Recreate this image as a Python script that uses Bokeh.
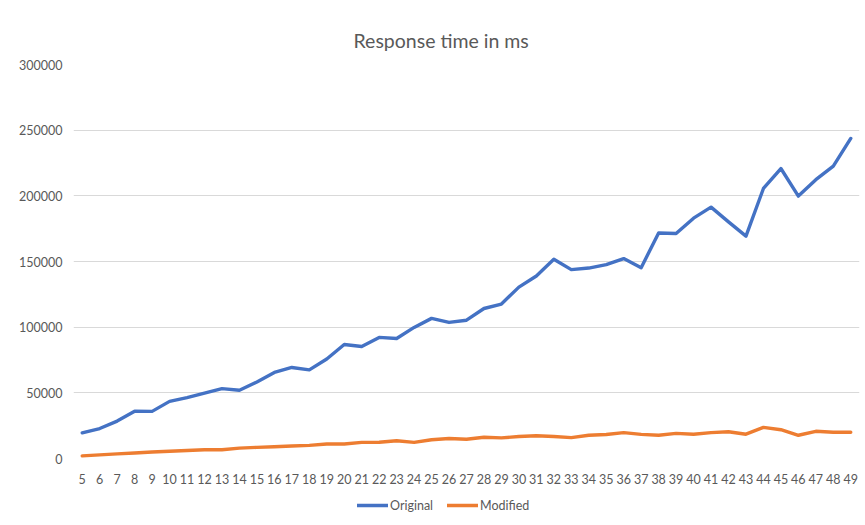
from bokeh.plotting import figure
from bokeh.layouts import column
from bokeh.models import ColumnDataSource, FactorRange, Range1d, FixedTicker, NumeralTickFormatter, Legend, LegendItem
from bokeh.embed import file_html
from bokeh.resources import INLINE

# ---- data ----
sizes = [str(n) for n in range(5, 50)]
original = [19500, 22800, 28500, 36000, 35900, 43500, 46400, 49800, 53200, 52000,
            58300, 65500, 69300, 67500, 75800, 86800, 85300, 92200, 91400, 99800,
            106700, 103600, 105300, 114200, 117600, 130500, 139000, 151700, 143800, 145000,
            147600, 152200, 145300, 171700, 171300, 183000, 191400, 180200, 169300, 205600,
            220800, 199800, 212300, 222600, 243700]
modified = [2000, 2800, 3500, 4200, 4900, 5500, 6100, 6700, 6700, 7900,
            8500, 9000, 9500, 10000, 11000, 11000, 12300, 12400, 13500, 12300,
            14300, 15200, 14700, 16200, 15700, 16800, 17300, 16800, 15900, 17700,
            18300, 19700, 18400, 17700, 19100, 18500, 19700, 20400, 18500, 23700,
            21900, 17700, 20700, 20000, 20000]
y_ticks = [0, 50000, 100000, 150000, 200000, 250000, 300000]
title_text = "Response time in ms"
series_names = ["Original", "Modified"]
colors = ["#4472C4", "#ED7D31"]

FONT = "Lato"
GRAY = "#595959"
GRID = "#d9d9d9"
LW = 3.4

src = ColumnDataSource(dict(x=sizes, original=original, modified=modified))
xr = FactorRange(factors=sizes)

p = figure(width=865, height=490, output_backend="svg", toolbar_location=None,
           x_range=xr, y_range=Range1d(0, 300000),
           min_border_left=73, min_border_right=6, min_border_top=64, min_border_bottom=32)
p.outline_line_color = None

p.title.text = title_text
p.title.align = "left"
p.title.offset = 280
p.title.text_font = FONT
p.title.text_font_size = "19.5px"
p.title.text_font_style = "normal"
p.title.text_color = GRAY
p.title.standoff = 26

p.line("x", "original", source=src, line_color=colors[0], line_width=LW,
       line_join="round", line_cap="round")
p.line("x", "modified", source=src, line_color=colors[1], line_width=LW,
       line_join="round", line_cap="round")

p.xgrid.grid_line_color = None
p.ygrid.grid_line_color = GRID
p.ygrid.grid_line_width = 1.2
p.ygrid.ticker = FixedTicker(ticks=y_ticks)

p.yaxis.ticker = FixedTicker(ticks=y_ticks)
p.yaxis.formatter = NumeralTickFormatter(format="0")
p.yaxis.axis_line_color = None
p.yaxis.major_tick_line_color = None
p.yaxis.minor_tick_line_color = None
p.yaxis.major_label_standoff = 5
p.yaxis.major_label_text_font = FONT
p.yaxis.major_label_text_font_size = "12.5px"
p.yaxis.major_label_text_color = GRAY

p.xaxis.axis_line_color = None
p.xaxis.major_tick_line_color = None
p.xaxis.minor_tick_line_color = None
p.xaxis.major_label_standoff = 9
p.xaxis.major_label_text_font = FONT
p.xaxis.major_label_text_font_size = "12.5px"
p.xaxis.major_label_text_color = GRAY

# legend strip below the chart (its series lines lie outside its own view)
lg = figure(width=865, height=35, output_backend="svg", toolbar_location=None,
            x_range=xr, y_range=Range1d(400000, 500000),
            x_axis_type=None, y_axis_type=None,
            min_border_left=73, min_border_right=6, min_border_top=0, min_border_bottom=0)
lg.outline_line_color = None
lg.xgrid.grid_line_color = None
lg.ygrid.grid_line_color = None
l1 = lg.line("x", "original", source=src, line_color=colors[0], line_width=LW, line_cap="round")
l2 = lg.line("x", "modified", source=src, line_color=colors[1], line_width=LW, line_cap="round")

legend = Legend(items=[LegendItem(label=series_names[0], renderers=[l1]),
                       LegendItem(label=series_names[1], renderers=[l2])],
                orientation="horizontal", location=(284, 12))
legend.glyph_width = 31
legend.glyph_height = 16
legend.label_height = 16
legend.label_standoff = 2
legend.spacing = 14
legend.padding = 0
legend.margin = 0
legend.border_line_color = None
legend.background_fill_alpha = 0
legend.label_text_font = FONT
legend.label_text_font_size = "12.5px"
legend.label_text_color = GRAY
lg.add_layout(legend, "center")

layout = column(p, lg, spacing=0)
open("out.html", "w").write(file_html(layout, INLINE))
